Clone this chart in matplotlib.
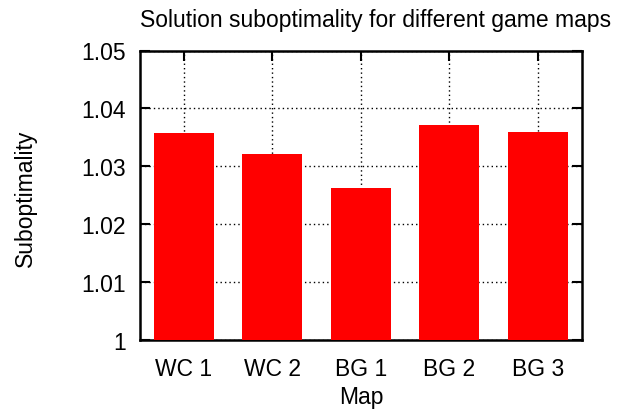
import numpy as np
import matplotlib
matplotlib.use("Agg")
import matplotlib.pyplot as plt

# === DATA ===
maps = ["WC 1", "WC 2", "BG 1", "BG 2", "BG 3"]
subopt = [1.0358, 1.0322, 1.0263, 1.0371, 1.0360]
yticks = [1.00, 1.01, 1.02, 1.03, 1.04, 1.05]
ytick_labels = ["1", "1.01", "1.02", "1.03", "1.04", "1.05"]

plt.rcParams["font.family"] = ["Liberation Sans", "DejaVu Sans"]
FS = 16.5

fig = plt.figure(figsize=(6.21, 4.14), dpi=100)
ax = fig.add_axes([139.5 / 621, 1 - 341 / 414, (582 - 139.5) / 621, (341 - 51.5) / 414])

x = np.arange(len(maps))
base = 1.0
ax.bar(x, np.array(subopt) - base, bottom=base, width=0.68, color="#ff0000", zorder=3)

ax.set_xlim(-0.5, len(maps) - 0.5)
ax.set_ylim(1.0, 1.05)
ax.set_xticks(x)
ax.set_xticklabels(maps, fontsize=FS)
ax.set_yticks(yticks)
ax.set_yticklabels(ytick_labels, fontsize=FS)

ax.tick_params(direction="in", length=7, width=1.5, top=True, right=True)
ax.tick_params(axis="x", pad=12)
ax.tick_params(axis="y", pad=10)
ax.grid(True, color="black", linestyle=(0, (1, 2.2)), linewidth=1, zorder=0)
ax.set_axisbelow(True)
for s in ax.spines.values():
    s.set_linewidth(1.8)

fig.text(376 / 621, 1 - 21 / 414, "Solution suboptimality for different game maps",
         fontsize=FS, ha="center", va="center")
fig.text(25 / 621, 1 - 198 / 414, "Suboptimality", fontsize=FS, rotation=90,
         ha="center", va="center")
fig.text(361 / 621, 1 - 398 / 414, "Map", fontsize=FS, ha="center", va="center")

fig.savefig("out.png", dpi=100)
